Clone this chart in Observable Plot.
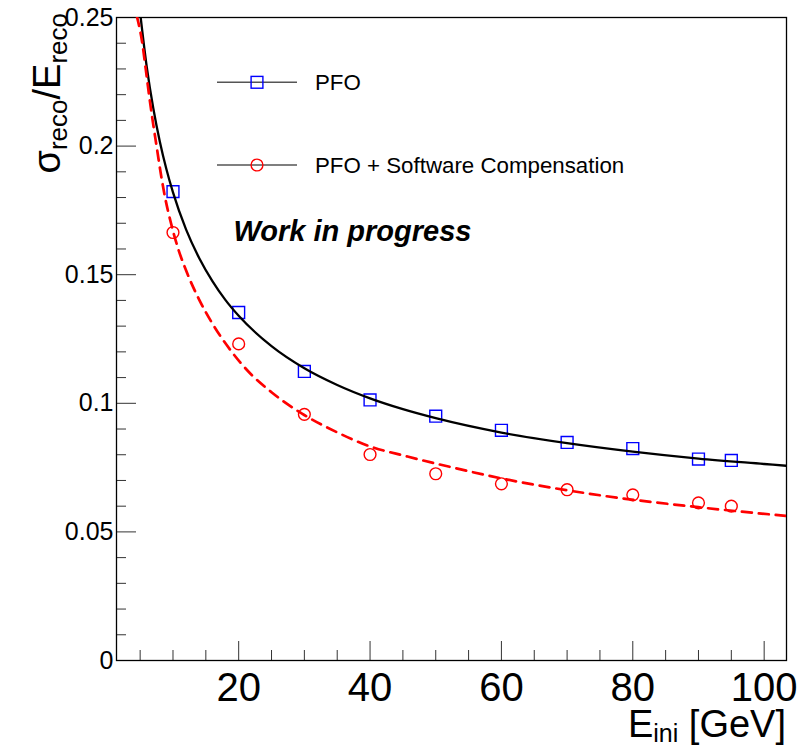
<!DOCTYPE html>
<html>
<head>
<meta charset="utf-8">
<script src="https://cdn.jsdelivr.net/npm/d3@7"></script>
<script src="https://cdn.jsdelivr.net/npm/@observablehq/plot@0.6"></script>
<style>
  html, body { margin: 0; padding: 0; background: #fff; overflow: hidden; }
  svg { display: block; }
</style>
</head>
<body>
<div id="chart"></div>
<script>
// ---- data ----
const energies = [10, 20, 30, 40, 50, 60, 70, 80, 90, 95];
const pfoRes   = [0.1823, 0.1353, 0.1124, 0.1013, 0.0950, 0.0895, 0.0848, 0.0824, 0.0783, 0.0778];
const pfoScRes = [0.1664, 0.1231, 0.0957, 0.0801, 0.0726, 0.0687, 0.0664, 0.0644, 0.0613, 0.0600];

// fitted curves
const fitPfoE   = [5, 6, 7, 8, 9, 10, 12, 14, 16, 18, 20, 25, 30, 35, 40, 45, 50, 60, 70, 80, 90, 100, 103.4];
const fitPfoRes = [0.2518, 0.2309, 0.2147, 0.2017, 0.1910, 0.1820, 0.1675, 0.1564, 0.1475, 0.1401, 0.1340, 0.1222, 0.1136, 0.1071, 0.1019, 0.0977, 0.0942, 0.0886, 0.0845, 0.0812, 0.0785, 0.0764, 0.0757];
const fitScE    = [4.5, 5.3, 5.85, 6.35, 6.9, 7.5, 8.1, 8.8, 9.7, 10.8, 12, 14, 16, 18.8, 21.8, 25, 29.7, 35, 39.6, 45.7, 52.3, 60, 75.1, 90, 103.4];
const fitScRes  = [0.2505, 0.2405, 0.2300, 0.2200, 0.2100, 0.2000, 0.1900, 0.1800, 0.1700, 0.1600, 0.1516, 0.1402, 0.1310, 0.1205, 0.1115, 0.1043, 0.0959, 0.0887, 0.0836, 0.0793, 0.0752, 0.0708, 0.0642, 0.0596, 0.0562];

// axes
const xMajorTicks = [20, 40, 60, 80, 100];
const xMinorTicks = [5, 10, 15, 25, 30, 35, 45, 50, 55, 65, 70, 75, 85, 90, 95];
const yMajorTicks = [0, 0.05, 0.1, 0.15, 0.2, 0.25];
const yTickLabels = ["0", "0.05", "0.1", "0.15", "0.2", "0.25"];
const yMinorTicks = [0.01, 0.02, 0.03, 0.04, 0.06, 0.07, 0.08, 0.09, 0.11, 0.12, 0.13, 0.14, 0.16, 0.17, 0.18, 0.19, 0.21, 0.22, 0.23, 0.24];

const legendLabels = ["PFO", "PFO + Software Compensation"];
const annotation = "Work in progress";

// ---- build tables ----
const pfoPts = energies.map((e, i) => ({e, v: pfoRes[i]}));
const scPts  = energies.map((e, i) => ({e, v: pfoScRes[i]}));
const pfoFit = fitPfoE.map((e, i) => ({e, v: fitPfoRes[i]}));
const scFit  = fitScE.map((e, i) => ({e, v: fitScRes[i]}));

const W = 811, H = 749, mL = 116, mR = 25, mT = 17, mB = 89;
const innerW = W - mL - mR, innerH = H - mT - mB;
const FONT = "'Liberation Sans', Arial, Helvetica, sans-serif";
const tickColor = "#333";

const svgEl = Plot.plot({
  width: W, height: H,
  marginLeft: mL, marginRight: mR, marginTop: mT, marginBottom: mB,
  style: {fontFamily: FONT, background: "white", overflow: "visible"},
  x: {domain: [1.4, 103.4], axis: null},
  y: {domain: [0, 0.25], axis: null},
  marks: [
    Plot.ruleX(xMinorTicks, {x: d => d, insetTop: innerH - 10, stroke: tickColor, strokeWidth: 1}),
    Plot.ruleX(xMajorTicks, {x: d => d, insetTop: innerH - 19, stroke: tickColor, strokeWidth: 1}),
    Plot.ruleY(yMinorTicks, {y: d => d, insetRight: innerW - 10, stroke: tickColor, strokeWidth: 1}),
    Plot.ruleY(yMajorTicks, {y: d => d, insetRight: innerW - 20, stroke: tickColor, strokeWidth: 1}),
    Plot.frame({stroke: "black", strokeWidth: 1.3}),
    Plot.dot(pfoPts, {x: "e", y: "v", symbol: "square", r: 6.7, stroke: "#0000ff", fill: "none", strokeWidth: 1.4}),
    Plot.dot(scPts, {x: "e", y: "v", symbol: "circle", r: 5.9, stroke: "#ff0000", fill: "none", strokeWidth: 1.4}),
    Plot.line(pfoFit, {x: "e", y: "v", stroke: "black", strokeWidth: 2.3, curve: "monotone-x", clip: true}),
    Plot.line(scFit, {x: "e", y: "v", stroke: "#ff0000", strokeWidth: 2.7, strokeDasharray: "10,7", curve: "monotone-x", clip: true}),
    Plot.text(xMajorTicks, {x: d => d, text: d => String(d), frameAnchor: "bottom", dy: 27.5, fontSize: 40, lineAnchor: "middle", fill: "black"}),
    Plot.text(yMajorTicks, {y: d => d, text: (d, i) => yTickLabels[i], frameAnchor: "left", dx: -3, textAnchor: "end", fontSize: 25, lineAnchor: "middle", fill: "black"}),
    Plot.text([annotation], {text: d => d, frameAnchor: "top-left", dx: 117, dy: 214.5, fontSize: 29, fontWeight: "bold", fontStyle: "italic", textAnchor: "start", lineAnchor: "middle", fill: "black"})
  ]
});

document.getElementById("chart").appendChild(svgEl);
const svg = d3.select(svgEl);

// ---- legend ----
const legend = svg.append("g").attr("font-family", FONT).attr("text-anchor", "start");
const rowsY = [82.3, 165];
legendLabels.forEach((lab, i) => {
  const y = rowsY[i];
  legend.append("line").attr("x1", 217).attr("x2", 297).attr("y1", y).attr("y2", y)
    .attr("stroke", "#555").attr("stroke-width", 1.6);
  if (i === 0) {
    legend.append("rect").attr("x", 257 - 5.9).attr("y", y - 5.9).attr("width", 11.8).attr("height", 11.8)
      .attr("fill", "none").attr("stroke", "#0000ff").attr("stroke-width", 1.4);
  } else {
    legend.append("circle").attr("cx", 257).attr("cy", y).attr("r", 5.9)
      .attr("fill", "none").attr("stroke", "#ff0000").attr("stroke-width", 1.4);
  }
  legend.append("text").attr("x", 315).attr("y", y).attr("dy", "0.35em")
    .attr("text-anchor", "start")
    .attr("font-size", 22.3).attr("fill", "black").text(lab);
});

// ---- axis titles ----
const yt = svg.append("text")
  .attr("font-family", FONT).attr("fill", "black")
  .attr("text-anchor", "end")
  .attr("transform", "translate(60,13) rotate(-90)");
yt.append("tspan").attr("font-size", 38).text("σ");
yt.append("tspan").attr("font-size", 26).attr("dy", 7).text("reco");
yt.append("tspan").attr("font-size", 38).attr("dy", -7).text("/E");
yt.append("tspan").attr("font-size", 26).attr("dy", 7).text("reco");

const xt = svg.append("text")
  .attr("font-family", FONT).attr("fill", "black")
  .attr("text-anchor", "end")
  .attr("x", 786).attr("y", 737);
xt.append("tspan").attr("font-size", 38).text("E");
xt.append("tspan").attr("font-size", 25).attr("dy", 5).text("ini");
xt.append("tspan").attr("font-size", 38).attr("dy", -5).text(" [GeV]");
</script>
</body>
</html>
